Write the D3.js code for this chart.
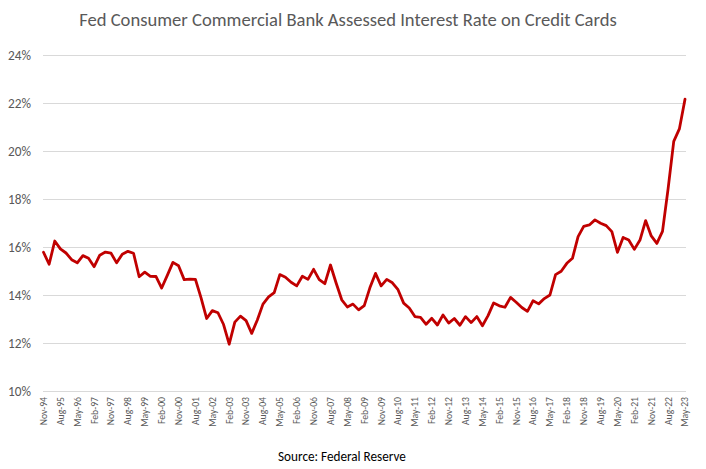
<!DOCTYPE html>
<html><head><meta charset="utf-8">
<script src="https://cdn.jsdelivr.net/npm/d3@7"></script>
<style>body{margin:0;background:#fff}svg{display:block}</style>
</head><body>
<svg id="c" width="706" height="469"></svg>
<script>
const title = "Fed Consumer Commercial Bank Assessed Interest Rate on Credit Cards";
const source = "Source: Federal Reserve";

const quarters = [
"Nov-94",
"Feb-95","May-95","Aug-95","Nov-95","Feb-96","May-96","Aug-96","Nov-96",
"Feb-97","May-97","Aug-97","Nov-97","Feb-98","May-98","Aug-98","Nov-98",
"Feb-99","May-99","Aug-99","Nov-99","Feb-00","May-00","Aug-00","Nov-00",
"Feb-01","May-01","Aug-01","Nov-01","Feb-02","May-02","Aug-02","Nov-02",
"Feb-03","May-03","Aug-03","Nov-03","Feb-04","May-04","Aug-04","Nov-04",
"Feb-05","May-05","Aug-05","Nov-05","Feb-06","May-06","Aug-06","Nov-06",
"Feb-07","May-07","Aug-07","Nov-07","Feb-08","May-08","Aug-08","Nov-08",
"Feb-09","May-09","Aug-09","Nov-09","Feb-10","May-10","Aug-10","Nov-10",
"Feb-11","May-11","Aug-11","Nov-11","Feb-12","May-12","Aug-12","Nov-12",
"Feb-13","May-13","Aug-13","Nov-13","Feb-14","May-14","Aug-14","Nov-14",
"Feb-15","May-15","Aug-15","Nov-15","Feb-16","May-16","Aug-16","Nov-16",
"Feb-17","May-17","Aug-17","Nov-17","Feb-18","May-18","Aug-18","Nov-18",
"Feb-19","May-19","Aug-19","Nov-19","Feb-20","May-20","Aug-20","Nov-20",
"Feb-21","May-21","Aug-21","Nov-21","Feb-22","May-22","Aug-22","Nov-22",
"Feb-23","May-23"
];

const rates = [
15.78,
15.28,16.25,15.92,15.75,15.47,15.34,15.64,15.53,
15.18,15.66,15.79,15.74,15.34,15.70,15.82,15.74,
14.76,14.95,14.78,14.77,14.29,14.82,15.36,15.22,
14.64,14.66,14.65,13.88,13.02,13.35,13.26,12.77,
11.95,12.87,13.12,12.93,12.40,12.96,13.62,13.92,
14.10,14.85,14.74,14.53,14.38,14.78,14.65,15.07,
14.64,14.47,15.25,14.50,13.80,13.50,13.62,13.38,
13.56,14.30,14.90,14.38,14.65,14.51,14.22,13.66,
13.46,13.10,13.07,12.78,13.03,12.75,13.17,12.83,
13.02,12.74,13.10,12.85,13.10,12.72,13.14,13.67,
13.55,13.49,13.90,13.70,13.48,13.32,13.76,13.63,
13.85,14.00,14.85,14.99,15.32,15.53,16.43,16.86,
16.92,17.13,16.99,16.89,16.64,15.78,16.40,16.29,
15.90,16.29,17.10,16.46,16.15,16.65,18.43,20.40,
20.92,22.16
];

const tickLabels = ["Nov-94","Aug-95","May-96","Feb-97","Nov-97","Aug-98","May-99","Feb-00","Nov-00",
"Aug-01","May-02","Feb-03","Nov-03","Aug-04","May-05","Feb-06","Nov-06","Aug-07","May-08","Feb-09",
"Nov-09","Aug-10","May-11","Feb-12","Nov-12","Aug-13","May-14","Feb-15","Nov-15","Aug-16","May-17",
"Feb-18","Nov-18","Aug-19","May-20","Feb-21","Nov-21","Aug-22","May-23"];

const yTicks = [10,12,14,16,18,20,22,24];

const data = quarters.map((q,i)=>({q, v: rates[i]}));

const svg = d3.select("#c");
const FONT = "Carlito, Lato, 'Open Sans', sans-serif";

const x = d3.scalePoint().domain(quarters).range([43.5, 685]);
const y = d3.scaleLinear().domain([10,24]).range([391,55]);

function fit(sel, target, base){
  sel.style("font-size", base+"px");
  const w = sel.node().getComputedTextLength();
  const s = base*target/w;
  sel.style("font-size", s+"px");
  return s;
}

// gridlines
svg.append("g").selectAll("line").data(yTicks).join("line")
  .attr("x1", 43).attr("x2", 686)
  .attr("y1", d=>Math.round(y(d))+0.5).attr("y2", d=>Math.round(y(d))+0.5)
  .attr("stroke", "#d9d9d9").attr("stroke-width", 1);

// y labels
const yl = svg.append("g").selectAll("text").data(yTicks).join("text")
  .attr("x", 31).attr("y", d=>y(d)).attr("dy","0.35em")
  .attr("text-anchor","end").attr("fill","#595959")
  .style("font-family", FONT)
  .text(d=>d+"%");
const ys = fit(yl.filter(d=>d===24), 23, 12);
yl.style("font-size", ys+"px");

// x labels
const xl = svg.append("g").selectAll("text").data(tickLabels).join("text")
  .attr("transform", d=>`translate(${x(d)},397) rotate(-90)`)
  .attr("text-anchor","end").attr("dy","0.35em").attr("fill","#595959")
  .style("font-family", FONT)
  .text(d=>d);
const xs = fit(xl.filter((d,i)=>i===0), 28.3, 12);
xl.style("font-size", xs+"px");

// line
svg.append("path").datum(data)
  .attr("fill","none").attr("stroke","#c00000").attr("stroke-width",2.8)
  .attr("stroke-linejoin","round").attr("stroke-linecap","round")
  .attr("d", d3.line().x(d=>x(d.q)).y(d=>y(d.v)));

// title
const t = svg.append("text").attr("x", 348).attr("y", 26)
  .attr("text-anchor","middle").attr("fill","#595959")
  .style("font-family", FONT).text(title);
fit(t, 538, 18);

// source
const s = svg.append("text").attr("x", 342).attr("y", 461)
  .attr("text-anchor","middle").attr("fill","#000")
  .style("font-family", FONT).text(source);
fit(s, 128, 12);
</script>
</body></html>
